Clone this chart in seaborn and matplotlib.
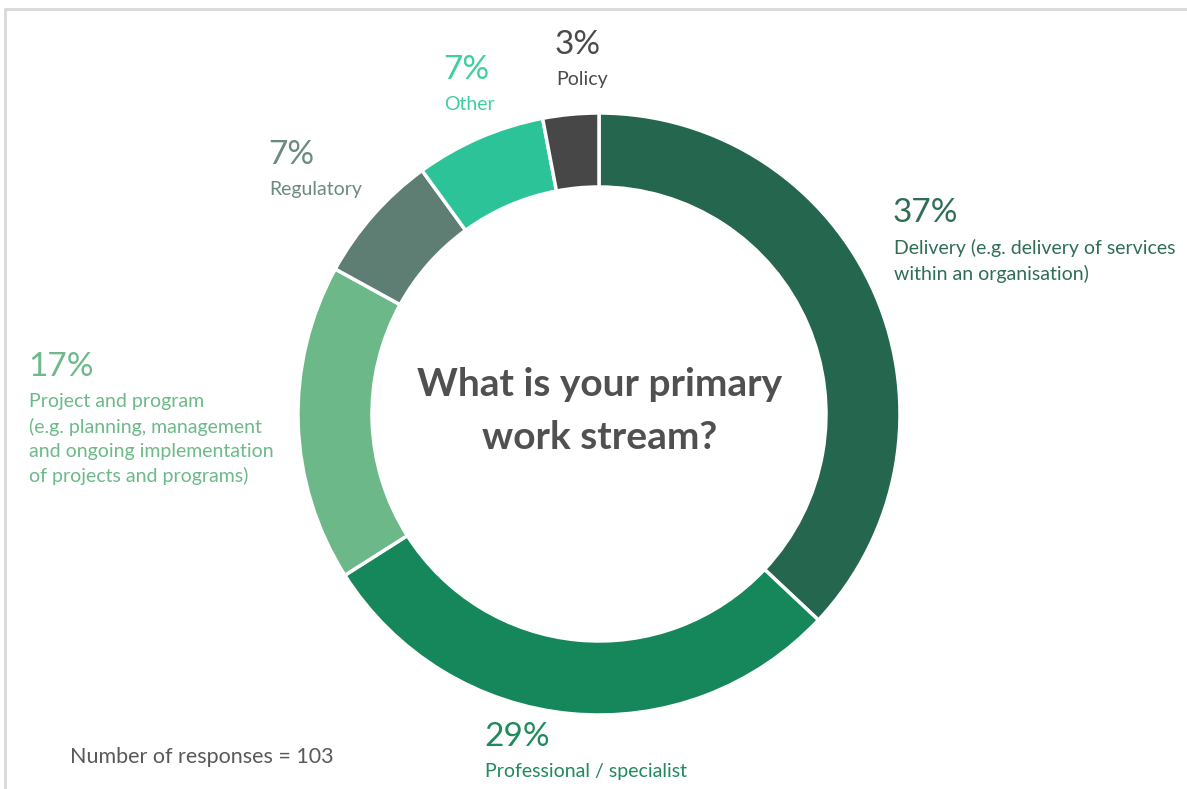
import matplotlib.pyplot as plt
import seaborn as sns
from matplotlib.lines import Line2D

# survey data, clockwise from 12 o'clock
categories = ['Delivery', 'Professional / specialist', 'Project and program',
              'Regulatory', 'Other', 'Policy']
shares = [37, 29, 17, 7, 7, 3]
descriptions = ['Delivery (e.g. delivery of services\nwithin an organisation)',
                'Professional / specialist',
                'Project and program\n(e.g. planning, management\nand ongoing implementation\nof projects and programs)',
                'Regulatory',
                'Other',
                'Policy']
n_responses = 103

wedge_colors = ['#24664e', '#16875a', '#6db888', '#5f7e73', '#2bc397', '#474747']
text_colors = ['#2f6e55', '#1f8a5c', '#6cb98a', '#6b8a80', '#3dcf9f', '#4a4a4a']
# label anchor (left x, top of percent) in pixels from the top-left
label_pos = [(893, 198), (484, 722), (28, 352), (268, 140), (443, 55), (555, 30)]

sns.set_theme(style='white')
plt.rcParams['font.family'] = ['Lato', 'DejaVu Sans']

W, H = 1187, 789
fig = plt.figure(figsize=(W / 100, H / 100), dpi=100)
ax = fig.add_axes([0, 0, 1, 1])

cx, cy, r = 599, H - 414, 301
ax.pie(shares, colors=wedge_colors, startangle=90, counterclock=False,
       center=(cx, cy), radius=r, frame=True,
       wedgeprops=dict(width=74, edgecolor='white', linewidth=2.5))
ax.set_xlim(0, W)
ax.set_ylim(0, H)
ax.set_aspect('equal')
ax.axis('off')

ax.text(cx + 1, H - 411, 'What is your primary\nwork stream?', ha='center', va='center',
        fontsize=28, fontweight='bold', color='#505050', linespacing=1.62)

for share, desc, col, (px, py) in zip(shares, descriptions, text_colors, label_pos):
    ax.text(px, H - py, f'{share}%', ha='left', va='top', fontsize=24, color=col)
    ax.text(px + 1, H - py - 41, desc, ha='left', va='top', fontsize=14,
            color=col, linespacing=1.5)

ax.text(70, H - 757, f'Number of responses = {n_responses}', ha='left', va='center',
        fontsize=15.5, color='#595959')

# light frame on the top and left edges
fig.add_artist(Line2D([5 / W, 1], [1 - 9 / H, 1 - 9 / H], transform=fig.transFigure,
                      color='#d9d9d9', linewidth=2))
fig.add_artist(Line2D([5 / W, 5 / W], [0, 1 - 9 / H], transform=fig.transFigure,
                      color='#d9d9d9', linewidth=2))

fig.savefig('out.png', dpi=100, facecolor='white')
